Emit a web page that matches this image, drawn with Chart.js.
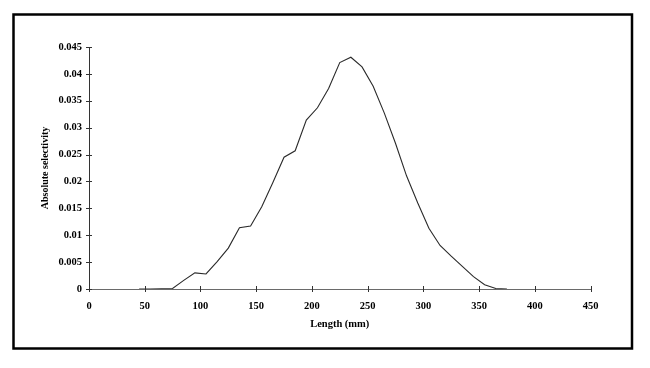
<!DOCTYPE html>
<html>
<head>
<meta charset="utf-8">
<script src="https://cdn.jsdelivr.net/npm/chart.js@4.4.1/dist/chart.umd.min.js"></script>
<style>
    html, body { margin: 0; padding: 0; background: #fff; }
    #wrap { width: 650px; height: 368px; position: relative; }
</style>
</head>
<body>
<div id="wrap"><canvas id="myChart"></canvas></div>
<script>
const lengths = [45, 55, 65, 75, 85, 95, 105, 115, 125, 135, 145, 155, 165, 175, 185, 195, 205,
    215, 225, 235, 245, 255, 265, 275, 285, 295, 305, 315, 325, 335, 345, 355, 365, 375];
const selectivity = [0, 0, 0.00005, 0.0001, 0.0016, 0.0030, 0.0028, 0.0051, 0.0076, 0.0114,
    0.0117, 0.0153, 0.0198, 0.0245, 0.0257, 0.0314, 0.0337, 0.0373, 0.0421, 0.0431, 0.0413,
    0.0377, 0.0327, 0.0271, 0.0210, 0.0160, 0.0113, 0.0081, 0.0061, 0.0042, 0.0023, 0.0008,
    0.0001, 0];
const xTicks = [0, 50, 100, 150, 200, 250, 300, 350, 400, 450];
const yTicks = [0, 0.005, 0.01, 0.015, 0.02, 0.025, 0.03, 0.035, 0.04, 0.045];
const yTickLabels = ['0', '0.005', '0.01', '0.015', '0.02', '0.025', '0.03', '0.035', '0.04', '0.045'];

const serif = "'Liberation Serif', 'DejaVu Serif', serif";

// frame round the whole figure and small ticks crossing both axes
const framePlugin = {
    id: 'frame',
    beforeDraw(chart) {
        const ctx = chart.ctx;
        ctx.save();
        ctx.fillStyle = '#fff';
        ctx.fillRect(0, 0, chart.width, chart.height);
        ctx.strokeStyle = '#000';
        ctx.lineWidth = 2.5;
        ctx.strokeRect(13.5, 14.5, 618.5, 334);
        ctx.restore();
    },
    afterDraw(chart) {
        const ctx = chart.ctx;
        const x = chart.scales.x, y = chart.scales.y;
        const area = chart.chartArea;
        ctx.save();
        ctx.lineWidth = 1;
        ctx.strokeStyle = '#333';
        x.ticks.forEach(t => {
            const px = Math.round(x.getPixelForValue(t.value)) + 0.5;
            ctx.beginPath();
            ctx.moveTo(px, area.bottom - 3);
            ctx.lineTo(px, area.bottom + 3);
            ctx.stroke();
        });
        y.ticks.forEach(t => {
            const py = Math.round(y.getPixelForValue(t.value)) + 0.5;
            ctx.beginPath();
            ctx.moveTo(area.left - 3, py);
            ctx.lineTo(area.left + 3, py);
            ctx.stroke();
        });
        ctx.restore();
    }
};

const ctx = document.getElementById('myChart').getContext('2d');
new Chart(ctx, {
    type: 'line',
    data: {
        datasets: [{
            label: 'Absolute selectivity',
            data: lengths.map((l, i) => ({ x: l, y: selectivity[i] })),
            borderColor: '#2a2a2a',
            borderWidth: 1.1,
            pointRadius: 0,
            tension: 0,
            fill: false
        }]
    },
    options: {
        responsive: true,
        maintainAspectRatio: false,
        animation: false,
        layout: { padding: { left: 0, right: 59.5, top: 47, bottom: 0 } },
        plugins: {
            legend: { display: false },
            tooltip: { enabled: false }
        },
        scales: {
            x: {
                type: 'linear',
                min: 0,
                max: 450,
                afterBuildTicks: s => { s.ticks = xTicks.map(v => ({ value: v })); },
                afterFit: s => { s.height = 79; },
                grid: { display: false, drawTicks: false },
                border: { display: true, color: '#6a6a6a', width: 1 },
                ticks: {
                    color: '#000',
                    padding: 11,
                    maxRotation: 0,
                    font: { family: serif, size: 10.5, weight: 'bold' },
                    callback: v => String(v)
                },
                title: {
                    display: true,
                    text: 'Length (mm)',
                    color: '#000',
                    font: { family: serif, size: 10.5, weight: 'bold' },
                    padding: { top: 0, bottom: 37 }
                }
            },
            y: {
                min: 0,
                max: 0.045,
                afterBuildTicks: s => { s.ticks = yTicks.map(v => ({ value: v })); },
                afterFit: s => { s.width = 89; },
                grid: { display: false, drawTicks: false },
                border: { display: true, color: '#333', width: 1 },
                ticks: {
                    color: '#000',
                    padding: 7,
                    font: { family: serif, size: 10.5, weight: 'bold' },
                    callback: v => {
                        const i = yTicks.findIndex(t => Math.abs(t - v) < 1e-9);
                        return i >= 0 ? yTickLabels[i] : '';
                    }
                },
                title: {
                    display: true,
                    text: 'Absolute selectivity',
                    color: '#000',
                    font: { family: serif, size: 10, weight: 'bold' },
                    padding: { top: 39, bottom: 0 }
                }
            }
        }
    },
    plugins: [framePlugin]
});
</script>
</body>
</html>
